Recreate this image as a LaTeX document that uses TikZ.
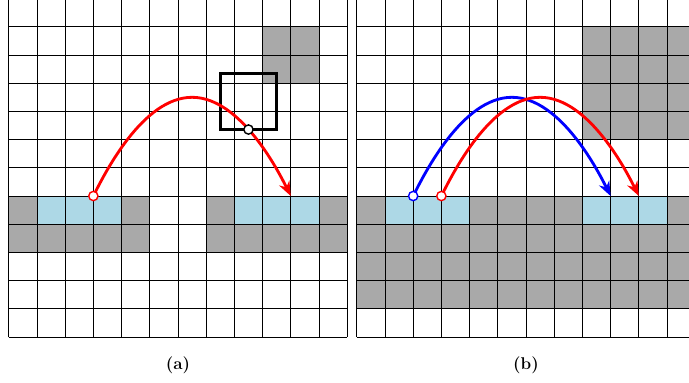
\documentclass[tikz,border=0pt]{standalone}
\usetikzlibrary{arrows.meta}
\definecolor{wallgray}{RGB}{169,169,169}
\definecolor{padblue}{RGB}{173,216,230}
\tikzset{
  gridline/.style={line width=0.5pt,black,step=0.7cm},
  jump/.style={line width=2pt,-{Stealth[length=3.6mm,width=2.8mm]}},
  takeoff/.style={circle,draw=#1,fill=white,line width=1pt,inner sep=0pt,minimum size=2.3mm},
}
\begin{document}
\begin{tikzpicture}[x=0.7cm,y=0.7cm]
  \useasboundingbox (-0.31,-1.63) rectangle (24.12,11.95);
  % (a) blocked and landing cells
  \foreach \c/\r in {9/10,10/10,9/9,10/9,0/4,4/4,7/4,11/4}
    \fill[wallgray] (\c,\r) rectangle ++(1,1);
  \foreach \c in {0,...,4,7,8,9,10,11}
    \fill[wallgray] (\c,3) rectangle ++(1,1);
  \foreach \c in {1,2,3,8,9,10}
    \fill[padblue] (\c,4) rectangle ++(1,1);
  \draw[gridline] (0,0) grid (12,12);
  % (a) jump with the probe box
  \coordinate (sa) at (3,5);
  \coordinate (ta) at (10,5);
  \coordinate (probe) at (8.5,7.357);
  \draw[line width=2pt] (7.5,7.357) rectangle (9.5,9.357);
  \draw[jump,red] (sa) parabola bend (6.5,8.5) (ta);
  \node[takeoff=red] (sa-dot) at (sa) {};
  \node[takeoff=black] (probe-dot) at (probe) {};
  \node[font=\large\bfseries] (capa) at (6,-0.99) {(a)};
  % (b) same level, two take-off points
  \begin{scope}[shift={(12.34,0)}]
    \foreach \c in {8,...,11}
      \foreach \r in {7,...,10}
        \fill[wallgray] (\c,\r) rectangle ++(1,1);
    \foreach \c in {0,4,5,6,7,11}
      \fill[wallgray] (\c,4) rectangle ++(1,1);
    \fill[wallgray] (0,1) rectangle (12,4);
    \foreach \c in {1,2,3,8,9,10}
      \fill[padblue] (\c,4) rectangle ++(1,1);
    \draw[gridline] (0,0) grid (12,12);
    \coordinate (sb1) at (2,5);
    \coordinate (tb1) at (9,5);
    \coordinate (sb2) at (3,5);
    \coordinate (tb2) at (10,5);
    \draw[jump,blue] (sb1) parabola bend (5.5,8.5) (tb1);
    \draw[jump,red] (sb2) parabola bend (6.5,8.5) (tb2);
    \node[takeoff=blue] (sb1-dot) at (sb1) {};
    \node[takeoff=red] (sb2-dot) at (sb2) {};
    \node[font=\large\bfseries] (capb) at (6,-0.99) {(b)};
  \end{scope}
\end{tikzpicture}
\end{document}
